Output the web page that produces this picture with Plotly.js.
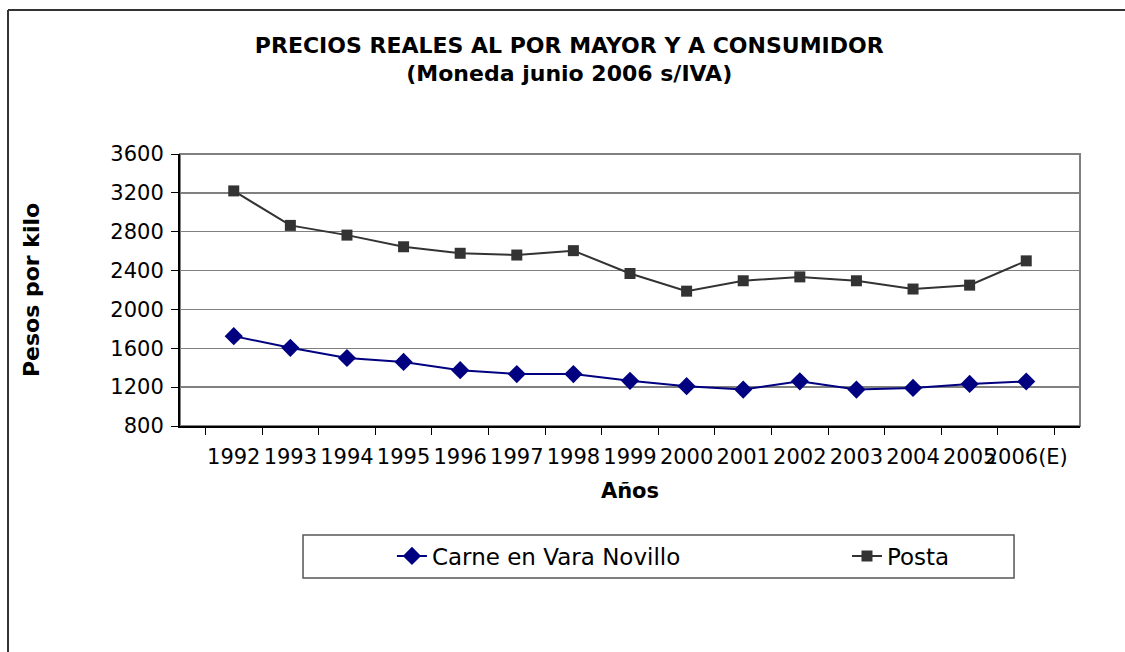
<!DOCTYPE html>
<html>
<head>
<meta charset="utf-8">
<script src="https://cdn.plot.ly/plotly-3.0.1.min.js"></script>
<style>
  body { margin: 0; background: #fff; }
  #chart { width: 1125px; height: 652px; }
</style>
</head>
<body>
<div id="chart"></div>
<script>
"use strict";

// data
var years = ["1992", "1993", "1994", "1995", "1996", "1997", "1998", "1999",
             "2000", "2001", "2002", "2003", "2004", "2005", "2006(E)"];
var carneVaraNovillo = [1725, 1605, 1500, 1460, 1375, 1335, 1335, 1265,
                        1210, 1175, 1260, 1175, 1192, 1233, 1258];
var posta = [3220, 2865, 2765, 2645, 2578, 2560, 2605, 2370,
             2188, 2295, 2335, 2295, 2210, 2250, 2500];
var yTicks = [800, 1200, 1600, 2000, 2400, 2800, 3200, 3600];

var font = "DejaVu Sans, Verdana, sans-serif";

var trace1 = {
    x: years,
    y: carneVaraNovillo,
    type: "scatter",
    mode: "lines+markers",
    name: "Carne en Vara Novillo",
    legend: "legend",
    line: {color: "#000080", width: 2},
    marker: {symbol: "diamond", size: 14, color: "#000080"}
};

var trace2 = {
    x: years,
    y: posta,
    type: "scatter",
    mode: "lines+markers",
    name: "Posta",
    legend: "legend2",
    line: {color: "#333333", width: 2},
    marker: {symbol: "square", size: 11, color: "#333333"}
};

var legendStyle = function(xPos){
    return {
        orientation: "h",
        x: xPos, xanchor: "left",
        y: -0.478, yanchor: "middle",
        bgcolor: "rgba(0,0,0,0)",
        borderwidth: 0,
        font: {family: font, size: 23, color: "#000"}
    };
};

var layout = {
    width: 1125,
    height: 652,
    margin: {l: 180, r: 45, t: 154, b: 226},
    paper_bgcolor: "#ffffff",
    plot_bgcolor: "#ffffff",
    font: {family: font, size: 21, color: "#000"},
    showlegend: true,
    title: {
        text: "<b>PRECIOS REALES AL POR MAYOR Y A CONSUMIDOR<br>(Moneda junio 2006 s/IVA)</b>",
        font: {family: font, size: 22, color: "#000"},
        x: 0.506, xref: "container", xanchor: "center",
        y: 1 - 52.5 / 652, yref: "container", yanchor: "middle"
    },
    xaxis: {
        type: "category",
        tickson: "boundaries",
        ticks: "outside",
        ticklen: 7,
        tickcolor: "#000",
        tickangle: 0,
        ticklabelstandoff: 11,
        showline: true,
        linecolor: "#000",
        linewidth: 2,
        showgrid: false,
        tickfont: {family: font, size: 21},
        title: {text: "<b>Años</b>", font: {family: font, size: 21}, standoff: 15},
        fixedrange: true
    },
    yaxis: {
        range: [800, 3600],
        tickvals: yTicks,
        ticks: "outside",
        ticklen: 7,
        tickcolor: "#000",
        ticklabelstandoff: 3,
        showline: true,
        linecolor: "#000",
        linewidth: 2,
        gridcolor: "#808080",
        gridwidth: 1.5,
        zeroline: false,
        tickfont: {family: font, size: 21},
        title: {text: "<b>Pesos por kilo</b>", font: {family: font, size: 22}, standoff: 65},
        fixedrange: true
    },
    legend: legendStyle(0.2355),
    legend2: legendStyle(0.7411),
    shapes: [
        // plot area border
        {type: "rect", xref: "paper", yref: "paper", x0: 0, x1: 1, y0: 0, y1: 1,
         line: {color: "#808080", width: 2}, layer: "below"},
        // legend box
        {type: "rect", xref: "paper", yref: "paper", x0: 0.1367, x1: 0.9267, y0: -0.5588, y1: -0.4007,
         line: {color: "#555555", width: 1.5}},
        // outer chart frame (left and top edges)
        {type: "line", xref: "paper", yref: "paper", x0: -0.1911, x1: -0.1911, y0: -0.84, y1: 1.5294,
         line: {color: "#333333", width: 2}},
        {type: "line", xref: "paper", yref: "paper", x0: -0.1911, x1: 1.06, y0: 1.5294, y1: 1.5294,
         line: {color: "#333333", width: 2}}
    ]
};

Plotly.newPlot("chart", [trace1, trace2], layout, {displayModeBar: false, staticPlot: true});
</script>
</body>
</html>
